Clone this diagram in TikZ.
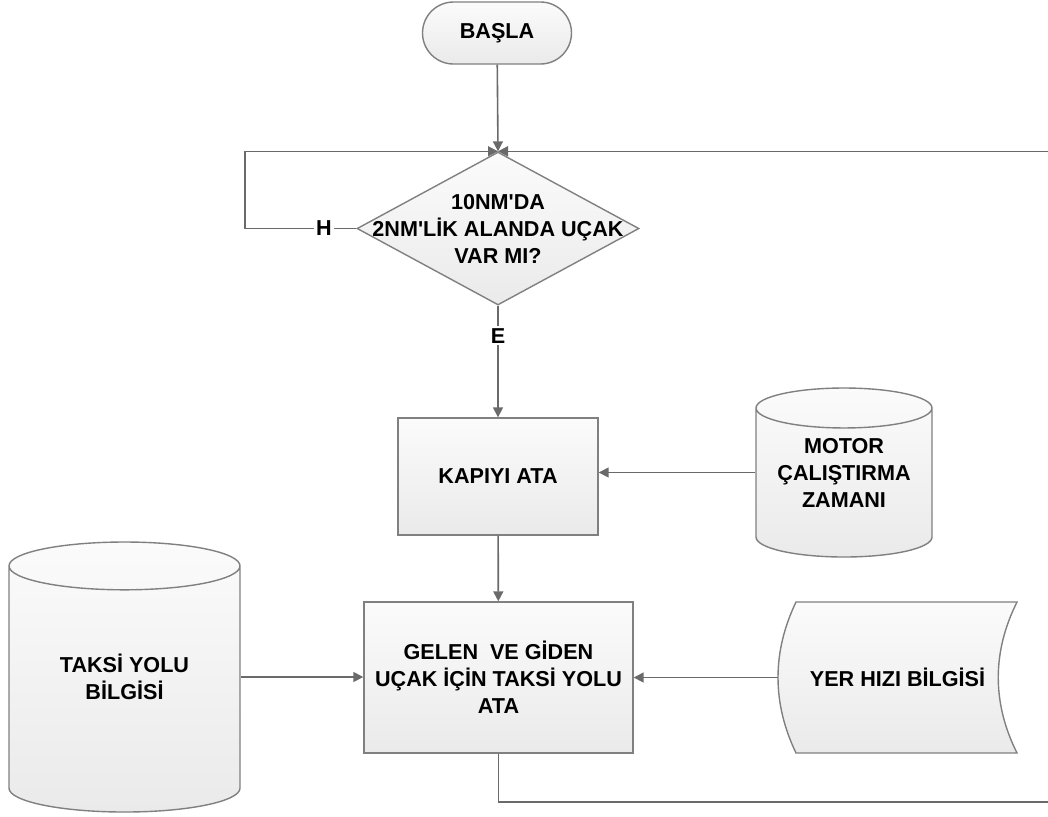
\documentclass[tikz,border=0pt]{standalone}
\usepackage{fontspec}
\setmainfont{Liberation Sans}
\usetikzlibrary{shapes.geometric,arrows.meta}

\definecolor{edgegray}{HTML}{808080}
\definecolor{linegray}{HTML}{6A6A6A}
\definecolor{filltop}{HTML}{FBFBFB}
\definecolor{fillbot}{HTML}{EAEAEA}

\begin{document}
\begin{tikzpicture}[x=0.5pt, y=-0.5pt,
	every node/.style={font=\fontsize{10.8}{13.5}\selectfont\bfseries, align=center},
	block/.style={draw=edgegray, line width=0.7pt, top color=filltop, bottom color=fillbot, inner sep=0pt},
	terminal/.style={block, rectangle, rounded corners=15.5pt, minimum width=74.5pt, minimum height=31pt},
	decision/.style={block, diamond, minimum width=141pt, minimum height=76.5pt},
	process/.style={block, rectangle},
	store/.style={block, cylinder, shape border rotate=90, aspect=0.4, anchor=shape center},
	flow/.style={draw=linegray, line width=0.8pt, -{Triangle[length=5pt,width=5pt]}},
	tag/.style={fill=white, inner sep=1pt}]

	\useasboundingbox (0,0) rectangle (1048,816);

	% Flowchart elements

	\node [terminal] (start) at (497,33) {BAŞLA};
	\node [decision] (q) at (498,228.5) {};
	\node (qtext) at (q) {10NM\textquotesingle DA\\2NM\textquotesingle LİK ALANDA UÇAK\\VAR MI?};
	\node [process, minimum width=100pt, minimum height=58.5pt] (gate) at (498,476.5) {KAPIYI ATA};
	\node [process, minimum width=134.5pt, minimum height=75.5pt] (taxi) at (498.5,677.5) {GELEN~ VE GİDEN\\UÇAK İÇİN TAKSİ YOLU\\ATA};

	% Databases
	\node [store, aspect=0.3, minimum width=88pt, minimum height=84.5pt] (motor) at (844,472.5) {\phantom{ÇALIŞTIRMA}};
	\node (mtext) at (motor.shape center) {MOTOR\\ÇALIŞTIRMA\\ZAMANI};
	\node [store, aspect=0.37, minimum width=115.5pt, minimum height=135pt] (route) at (124.5,677) {\phantom{TAKSİ YOLU}};
	\node (rtext) at (route.shape center) {TAKSİ YOLU\\BİLGİSİ};

	% Stored data
	\path [block] (796,602) .. controls (772,652) and (772,703) .. (796,753) -- (1017,753)
		.. controls (992,703) and (992,652) .. (1017,602) -- cycle;
	\node [minimum width=119.5pt, minimum height=75.5pt] (speed) at (897.5,677.5) {YER HIZI BİLGİSİ};

	% Loop corners
	\coordinate (loopL) at (245,228.5);
	\coordinate (loopR) at (1056,802);

	% Connectors

	\draw [flow] (start) -- (q.north);
	\draw [flow] (q.west) -- node [tag, pos=0.29] {H} (loopL) |- (q.north);
	\draw [flow] (q.south) -- node [tag, pos=0.27] {E} (gate);
	\draw [flow] (motor.west |- motor.shape center) -- (motor.shape center -| gate.east);
	\draw [flow] (gate) -- (taxi);
	\draw [flow] (route.east |- route.shape center) -- (route.shape center -| taxi.west);
	\draw [flow] (speed.west) -- (taxi.east);
	\draw [flow] (taxi.south) |- (loopR) |- (q.north);

\end{tikzpicture}
\end{document}
